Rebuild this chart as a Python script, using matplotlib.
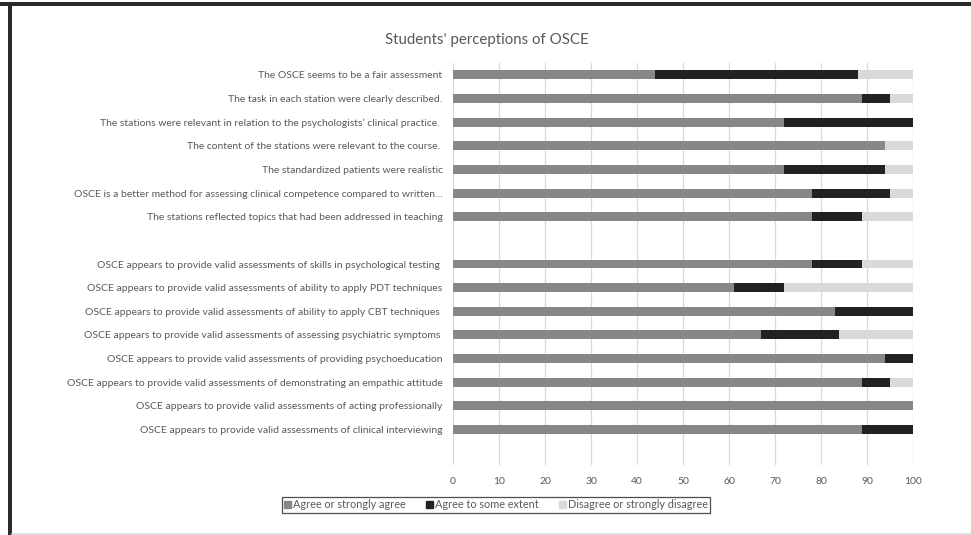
import matplotlib
matplotlib.use("Agg")
import matplotlib.pyplot as plt
from matplotlib.patches import Rectangle
from matplotlib.lines import Line2D
import numpy as np

plt.rcParams['font.family'] = ['Lato', 'DejaVu Sans']

# Survey statements, top to bottom ('' marks an empty spacer row)
categories = [
    "The OSCE seems to be a fair assessment",
    "The task in each station were clearly described.",
    "The stations were relevant in relation to the psychologists\u2019 clinical practice. ",
    "The content of the stations were relevant to the course. ",
    "The standardized patients were realistic",
    "OSCE is a better method for assessing clinical competence compared to written\u2026",
    "The stations reflected topics that had been addressed in teaching",
    "",
    "OSCE appears to provide valid assessments of skills in psychological testing ",
    "OSCE appears to provide valid assessments of ability to apply PDT techniques",
    "OSCE appears to provide valid assessments of ability to apply CBT techniques ",
    "OSCE appears to provide valid assessments of assessing psychiatric symptoms ",
    "OSCE appears to provide valid assessments of providing psychoeducation",
    "OSCE appears to provide valid assessments of demonstrating an empathic attitude",
    "OSCE appears to provide valid assessments of acting professionally",
    "OSCE appears to provide valid assessments of clinical interviewing",
    "",
]

# Percentages per response group
agree = [44, 89, 72, 94, 72, 78, 78, 0, 78, 61, 83, 67, 94, 89, 100, 89, 0]
some_extent = [44, 6, 28, 0, 22, 17, 11, 0, 11, 11, 17, 17, 6, 6, 0, 11, 0]
disagree = [12, 5, 0, 6, 6, 5, 11, 0, 11, 28, 0, 16, 0, 5, 0, 0, 0]

series_names = ["Agree or strongly agree", "Agree to some extent",
                "Disagree or strongly disagree"]
colors = ["#878787", "#222222", "#d9d9d9"]
x_ticks = list(range(0, 101, 10))

W, H = 971, 535
fig = plt.figure(figsize=(W / 100, H / 100), dpi=100)

# plot area in pixel coordinates
left, right, top, bottom = 453, 913, 63, 465
ax = fig.add_axes([left / W, 1 - bottom / H, (right - left) / W, (bottom - top) / H])

y = np.arange(len(categories))
a = np.array(agree, dtype=float)
s = np.array(some_extent, dtype=float)
d = np.array(disagree, dtype=float)
bh = 0.38
ax.barh(y, a, height=bh, color=colors[0], label=series_names[0], zorder=3)
ax.barh(y, s, left=a, height=bh, color=colors[1], label=series_names[1], zorder=3)
ax.barh(y, d, left=a + s, height=bh, color=colors[2], label=series_names[2], zorder=3)

ax.set_xlim(0, 100)
ax.set_ylim(len(categories) - 0.5, -0.5)
ax.set_xticks(x_ticks)
ax.set_yticks(y)
ax.set_yticklabels(categories)
ax.grid(axis='x', color='#d9d9d9', linewidth=0.9, zorder=0)
for sp in ax.spines.values():
    sp.set_visible(False)
ax.tick_params(axis='both', length=0, colors='#595959', labelsize=7.5)
ax.tick_params(axis='y', pad=7.5)
ax.tick_params(axis='x', pad=9)

fig.text(487 / W, 1 - 40 / H, "Students' perceptions of OSCE", ha='center',
         va='center', fontsize=10.8, color='#595959')

# legend with rectangular frame
handles = [Rectangle((0, 0), 1, 1, color=c) for c in colors]
leg = fig.legend(handles, series_names, loc='center',
                 bbox_to_anchor=(496 / W, 1 - 505 / H), ncol=3, fontsize=7.8,
                 frameon=True, fancybox=False, handlelength=0.6,
                 handleheight=0.6, handletextpad=0.2, columnspacing=1.9,
                 borderpad=0.2, borderaxespad=0)
leg.get_frame().set_edgecolor('#222222')
leg.get_frame().set_linewidth(0.9)
for t in leg.get_texts():
    t.set_color('#595959')

# outer frame of the chart area
fig.add_artist(Rectangle((0, 1 - 6 / H), 1, 4 / H, transform=fig.transFigure,
                         color='#2a2a2a', lw=0))
fig.add_artist(Rectangle((8 / W, 0), 3.5 / W, 1 - 3 / H, transform=fig.transFigure,
                         color='#2a2a2a', lw=0))
fig.add_artist(Line2D([12 / W, 1], [1.5 / H, 1.5 / H], transform=fig.transFigure,
                      color='#d9d9d9', lw=1.2))

fig.savefig("out.png", dpi=100)
